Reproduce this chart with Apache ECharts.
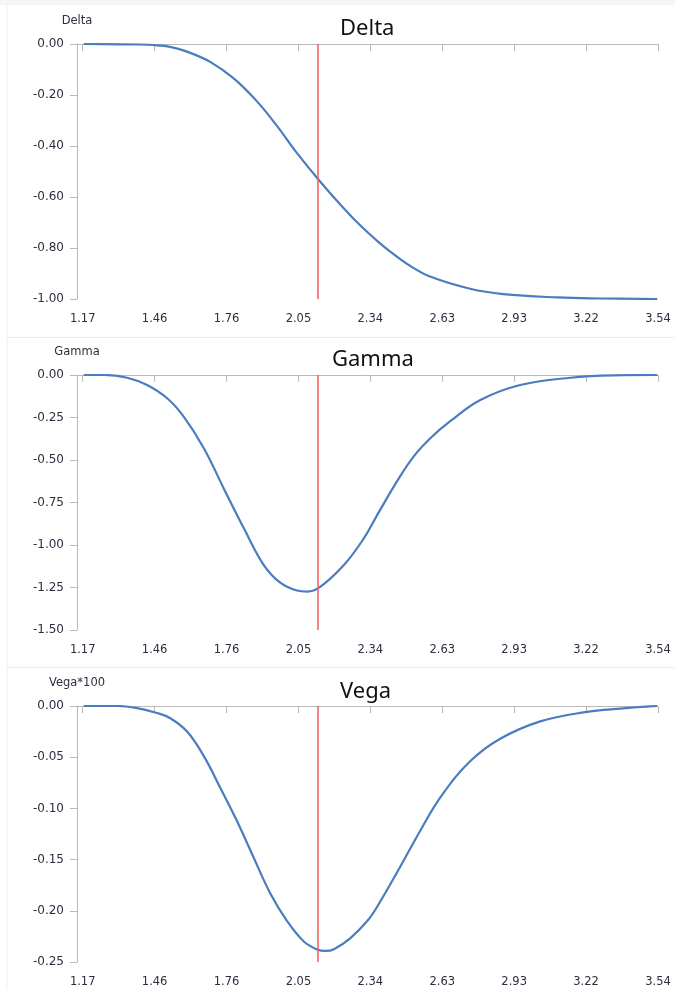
<!DOCTYPE html>
<html>
<head>
<meta charset="utf-8">
<script src="https://cdn.jsdelivr.net/npm/echarts@6/dist/echarts.min.js"></script>
<style>
html,body{margin:0;padding:0;background:#ffffff;}
#c{width:675px;height:990px;}
</style>
</head>
<body>
<div id="c"></div>
<script>
// ---- data ----
const xTickLabels = ['1.17','1.46','1.76','2.05','2.34','2.63','2.93','3.22','3.54'];
const xFirstTick = 1.17, xLastTick = 3.54, xAxisMin = 1.1465;
const spotPrice = 2.14;

const deltaX = [1.174,1.406,1.460,1.530,1.600,1.695,1.792,1.888,1.971,2.053,2.147,2.246,2.314,2.383,2.437,2.519,2.601,2.766,2.902,3.125,3.302,3.537];
const deltaY = [0.000,-0.002,-0.004,-0.011,-0.030,-0.070,-0.135,-0.225,-0.322,-0.428,-0.538,-0.645,-0.712,-0.772,-0.814,-0.870,-0.912,-0.960,-0.981,-0.994,-0.998,-1.000];

const gammaX = [1.174,1.257,1.353,1.435,1.518,1.586,1.669,1.751,1.834,1.916,1.984,2.053,2.095,2.147,2.246,2.328,2.383,2.464,2.533,2.602,2.684,2.808,2.972,3.179,3.356,3.537];
const gammaY = [0.000,0.000,-0.016,-0.059,-0.137,-0.245,-0.431,-0.667,-0.902,-1.118,-1.222,-1.268,-1.274,-1.248,-1.118,-0.961,-0.824,-0.627,-0.480,-0.372,-0.272,-0.147,-0.059,-0.016,-0.002,0.000];

const vegaX = [1.174,1.311,1.394,1.476,1.531,1.600,1.669,1.737,1.806,1.875,1.943,2.012,2.081,2.136,2.170,2.205,2.273,2.342,2.383,2.478,2.560,2.647,2.766,2.890,3.055,3.240,3.385,3.537];
const vegaY = [0.000,0.000,-0.0020,-0.0068,-0.0120,-0.0250,-0.0490,-0.0800,-0.1126,-0.1484,-0.1830,-0.2100,-0.2300,-0.2378,-0.2392,-0.2375,-0.2266,-0.2100,-0.1960,-0.1570,-0.1220,-0.0880,-0.0540,-0.0320,-0.0150,-0.0060,-0.0025,0.0000];

const panelTitles = ['Delta','Gamma','Vega'];
const axisNames = ['Delta','Gamma','Vega*100'];
const yRanges = [[-1, 0, 0.2],[-1.5, 0, 0.25],[-0.25, 0, 0.05]];

// ---- build chart ----
const tickVals = xTickLabels.map((_, i) => xFirstTick + i * (xLastTick - xFirstTick) / (xTickLabels.length - 1));
const gridTops = [44, 375, 706];
const gridHeights = [255, 255, 256];
const titleLefts = [335, 327, 335];
const titleTops = [13, 344, 676];
const axisGray = '#b9b9b9';
const labelColor = '#2e2e40';
const lineBlue = '#4a7cc0';

const grids = [], xAxes = [], yAxes = [], series = [], titles = [];
const xs = [deltaX, gammaX, vegaX], ys = [deltaY, gammaY, vegaY];

for (let k = 0; k < 3; k++) {
  grids.push({left: 77, right: 17, top: gridTops[k], height: gridHeights[k], containLabel: false});
  titles.push({text: panelTitles[k], left: titleLefts[k], top: titleTops[k],
    textStyle: {fontFamily: 'Noto Sans', fontSize: 22, fontWeight: 'normal', color: '#111111'}});
  xAxes.push({
    type: 'value', gridIndex: k, position: 'bottom', min: xAxisMin, max: xLastTick,
    axisLine: {show: true, lineStyle: {color: axisGray, width: 1}},
    axisTick: {show: true, customValues: tickVals, length: 7, lineStyle: {color: axisGray}},
    axisLabel: {show: true, customValues: tickVals, margin: 14, color: labelColor,
      fontFamily: 'DejaVu Sans', fontSize: 11.5,
      formatter: v => {
        let best = 0, d = 1e9;
        tickVals.forEach((t, i) => { if (Math.abs(t - v) < d) { d = Math.abs(t - v); best = i; } });
        return xTickLabels[best];
      }},
    splitLine: {show: false}
  });
  xAxes.push({
    type: 'value', gridIndex: k, position: 'top', min: xAxisMin, max: xLastTick,
    axisLine: {show: true, onZero: false, lineStyle: {color: axisGray, width: 1}},
    axisTick: {show: false}, axisLabel: {show: false}, splitLine: {show: false}
  });
  yAxes.push({
    type: 'value', gridIndex: k, min: yRanges[k][0], max: yRanges[k][1], interval: yRanges[k][2],
    name: axisNames[k], nameLocation: 'end', nameGap: 17,
    nameTextStyle: {fontFamily: 'DejaVu Sans', fontSize: 11.5, color: labelColor, align: 'center'},
    axisLine: {show: true, lineStyle: {color: axisGray, width: 1}},
    axisTick: {show: true, length: 7, lineStyle: {color: axisGray}},
    axisLabel: {margin: 13, color: labelColor, fontFamily: 'DejaVu Sans', fontSize: 12,
      formatter: v => (Math.abs(v) < 1e-9 ? 0 : v).toFixed(2)},
    splitLine: {show: false}
  });
  series.push({
    type: 'line', xAxisIndex: 2 * k, yAxisIndex: k,
    data: xs[k].map((x, i) => [x, ys[k][i]]),
    smooth: 0.4, showSymbol: false, symbol: 'none',
    lineStyle: {color: lineBlue, width: 2.2}, z: 3,
    markLine: {
      silent: true, symbol: 'none', animation: false,
      label: {show: false},
      lineStyle: {color: '#f25c5c', width: 1.5, type: 'solid'},
      data: [{xAxis: spotPrice}]
    }
  });
}

const chart = echarts.init(document.getElementById('c'), null, {renderer: 'canvas'});
chart.setOption({
  animation: false,
  backgroundColor: '#ffffff',
  title: titles,
  grid: grids,
  xAxis: xAxes,
  yAxis: yAxes,
  series: series,
  graphic: [
    {type: 'rect', shape: {x: 0, y: 0, width: 675, height: 5}, style: {fill: '#f4f5f7'}, silent: true},
    {type: 'line', shape: {x1: 7, y1: 5, x2: 7, y2: 990}, style: {stroke: '#eceff4', lineWidth: 1}, silent: true},
    {type: 'line', shape: {x1: 7, y1: 337.5, x2: 675, y2: 337.5}, style: {stroke: '#e6eaf2', lineWidth: 1}, silent: true},
    {type: 'line', shape: {x1: 7, y1: 667.5, x2: 675, y2: 667.5}, style: {stroke: '#e6eaf2', lineWidth: 1}, silent: true}
  ]
});
</script>
</body>
</html>
